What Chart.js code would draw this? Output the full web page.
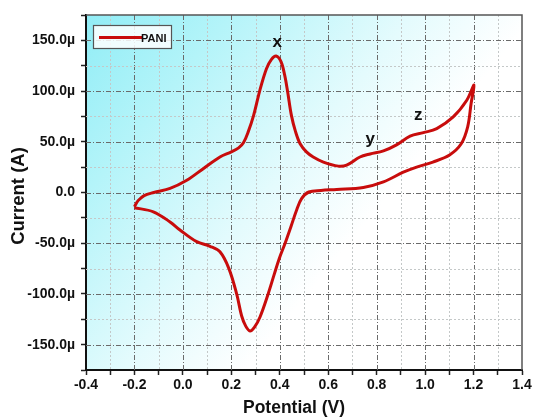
<!DOCTYPE html>
<html>
<head>
<meta charset="utf-8">
<script src="https://cdn.jsdelivr.net/npm/chart.js@4.4.1/dist/chart.umd.min.js"></script>
<style>
  html, body { margin: 0; padding: 0; background: #fff; }
</style>
</head>
<body>
<canvas id="cv" width="534" height="417"></canvas>
<script>
// cyclic voltammogram, forward scan then reverse scan (potential in V, current in µA)
const potential = [
  -0.200, -0.185, -0.160, -0.120, -0.053, 0.016, 0.084, 0.153, 0.200, 0.230,
  0.250, 0.270, 0.292, 0.318, 0.345, 0.365, 0.385, 0.405, 0.420, 0.432,
  0.448, 0.465, 0.484, 0.510, 0.538, 0.580, 0.642, 0.676, 0.731, 0.773,
  0.828, 0.882, 0.938, 0.993, 1.048, 1.116, 1.172, 1.202,
  1.190, 1.176, 1.149, 1.101, 1.032, 0.965, 0.910, 0.828, 0.745, 0.635,
  0.570, 0.520, 0.490, 0.470, 0.447, 0.422, 0.398, 0.378, 0.352, 0.318,
  0.295, 0.277, 0.260, 0.243, 0.222, 0.190, 0.153, 0.112, 0.057, -0.012,
  -0.053, -0.122, -0.200
];
const current = [
  -14, -8, -3, 0, 4, 12, 23.5, 35, 40, 44,
  49, 60, 76, 101, 122, 131, 134.5, 129, 116, 100,
  76, 60, 48, 40, 35, 30, 26, 27, 35, 38,
  41, 47, 55.5, 59, 63, 74.5, 91, 106,
  88, 65, 48, 37, 30, 25, 20, 10.5, 5, 3,
  2, 0.5, -6, -17, -33, -50, -65, -80, -100, -123,
  -133, -136.5, -132, -122, -100, -75, -58.5, -53, -48.5, -37,
  -29, -19, -15
];
const seriesName = 'PANI';
const peakNames = ['x', 'y', 'z'];
const peakPotential = [0.389, 0.773, 0.972];
const peakCurrent = [148, 52.5, 76];
const xTitle = 'Potential (V)';
const yTitle = 'Current (A)';

const FONT = 'Liberation Sans, Arial, sans-serif';

const bgPlugin = {
  id: 'bg',
  beforeDraw(chart) {
    const { ctx, chartArea: a } = chart;
    const g = ctx.createLinearGradient(a.left, a.top, a.right, a.bottom);
    g.addColorStop(0, 'rgb(145,237,246)');
    g.addColorStop(0.2, 'rgb(180,244,249)');
    g.addColorStop(0.45, 'rgb(228,251,253)');
    g.addColorStop(0.62, 'rgb(255,255,255)');
    ctx.save();
    ctx.fillStyle = g;
    ctx.fillRect(a.left, a.top, a.right - a.left, a.bottom - a.top);
    ctx.restore();
  }
};

const gridPlugin = {
  id: 'grid',
  beforeDatasetsDraw(chart) {
    const { ctx, chartArea: a, scales } = chart;
    ctx.save();
    ctx.lineWidth = 1;
    scales.x.ticks.forEach((t, i) => {
      if (i === 0 || i === scales.x.ticks.length - 1) return;
      const major = Math.round(t.value * 10) % 2 === 0;
      const px = Math.round(scales.x.getPixelForValue(t.value)) + 0.5;
      ctx.strokeStyle = major ? '#6a6a6a' : '#c4c8c8';
      ctx.setLineDash(major ? [5, 2, 1, 2] : [2, 2]);
      ctx.beginPath(); ctx.moveTo(px, a.top); ctx.lineTo(px, a.bottom); ctx.stroke();
    });
    scales.y.ticks.forEach((t, i) => {
      if (i === 0 || i === scales.y.ticks.length - 1) return;
      const major = Math.round(t.value) % 50 === 0;
      const py = Math.round(scales.y.getPixelForValue(t.value)) + 0.5;
      ctx.strokeStyle = major ? '#6a6a6a' : '#c4c8c8';
      ctx.setLineDash(major ? [5, 2, 1, 2] : [2, 2]);
      ctx.beginPath(); ctx.moveTo(a.left, py); ctx.lineTo(a.right, py); ctx.stroke();
    });
    ctx.restore();
  }
};

const overlayPlugin = {
  id: 'overlay',
  afterDatasetsDraw(chart) {
    const { ctx, chartArea: a, scales } = chart;
    ctx.save();
    // top and right frame
    ctx.strokeStyle = '#555';
    ctx.lineWidth = 1.5;
    ctx.setLineDash([]);
    ctx.beginPath();
    ctx.moveTo(a.left, a.top); ctx.lineTo(a.right, a.top); ctx.lineTo(a.right, a.bottom);
    ctx.stroke();

    // peak labels
    ctx.fillStyle = '#111';
    ctx.font = 'bold 17px ' + FONT;
    ctx.textAlign = 'center';
    ctx.textBaseline = 'middle';
    peakNames.forEach((n, i) => {
      ctx.fillText(n, scales.x.getPixelForValue(peakPotential[i]), scales.y.getPixelForValue(peakCurrent[i]));
    });

    // axis titles
    ctx.font = 'bold 17.5px ' + FONT;
    ctx.fillText(xTitle, 294, 408);
    ctx.save();
    ctx.translate(19, 196);
    ctx.rotate(-Math.PI / 2);
    ctx.font = 'bold 18.5px ' + FONT;
    ctx.fillText(yTitle, 0, 0);
    ctx.restore();

    // legend
    const lx = a.left + 7, ly = a.top + 10;
    ctx.fillStyle = 'rgba(255,255,255,0.85)';
    ctx.fillRect(lx, ly, 78, 23);
    ctx.strokeStyle = '#555';
    ctx.lineWidth = 1.2;
    ctx.strokeRect(lx + 0.5, ly + 0.5, 78, 23);
    ctx.strokeStyle = '#c80c0c';
    ctx.lineWidth = 3;
    ctx.beginPath(); ctx.moveTo(lx + 6, ly + 12.5); ctx.lineTo(lx + 49, ly + 12.5); ctx.stroke();
    ctx.fillStyle = '#111';
    ctx.font = 'bold 11px ' + FONT;
    ctx.textAlign = 'left';
    ctx.fillText(seriesName, lx + 48, ly + 13.5);
    ctx.restore();
  }
};

const tickFont = { family: FONT, weight: 'bold', size: 14 };

new Chart(document.getElementById('cv'), {
  type: 'scatter',
  data: {
    datasets: [{
      label: seriesName,
      data: potential.map((p, i) => ({ x: p, y: current[i] })),
      showLine: true,
      borderColor: '#c80c0c',
      borderWidth: 3,
      pointRadius: 0,
      tension: 0.35,
      fill: false
    }]
  },
  options: {
    responsive: false,
    animation: false,
    devicePixelRatio: 1,
    layout: { padding: { left: 0, top: 15, right: 12, bottom: 0 } },
    plugins: { legend: { display: false }, tooltip: { enabled: false } },
    scales: {
      x: {
        type: 'linear',
        min: -0.4,
        max: 1.4,
        afterFit(s) { s.height = 47; },
        ticks: {
          stepSize: 0.1,
          autoSkip: false,
          maxRotation: 0,
          padding: 2,
          color: '#111',
          font: tickFont,
          callback: v => Math.round(v * 10) % 2 === 0 ? (Math.round(v * 10) / 10).toFixed(1) : ''
        },
        grid: { drawOnChartArea: false, tickLength: 5, tickColor: '#222', tickWidth: 1.5 },
        border: { color: '#111', width: 2 }
      },
      y: {
        min: -175,
        max: 175,
        afterFit(s) { s.width = 86; },
        ticks: {
          stepSize: 25,
          autoSkip: false,
          padding: 6,
          color: '#111',
          font: tickFont,
          callback: v => {
            const r = Math.round(v);
            if (r % 50 !== 0) return '';
            if (r === 0) return '0.0';
            return r.toFixed(1) + 'µ';
          }
        },
        grid: { drawOnChartArea: false, tickLength: 5, tickColor: '#222', tickWidth: 1.5 },
        border: { color: '#111', width: 2 }
      }
    }
  },
  plugins: [bgPlugin, gridPlugin, overlayPlugin]
});
</script>
</body>
</html>
